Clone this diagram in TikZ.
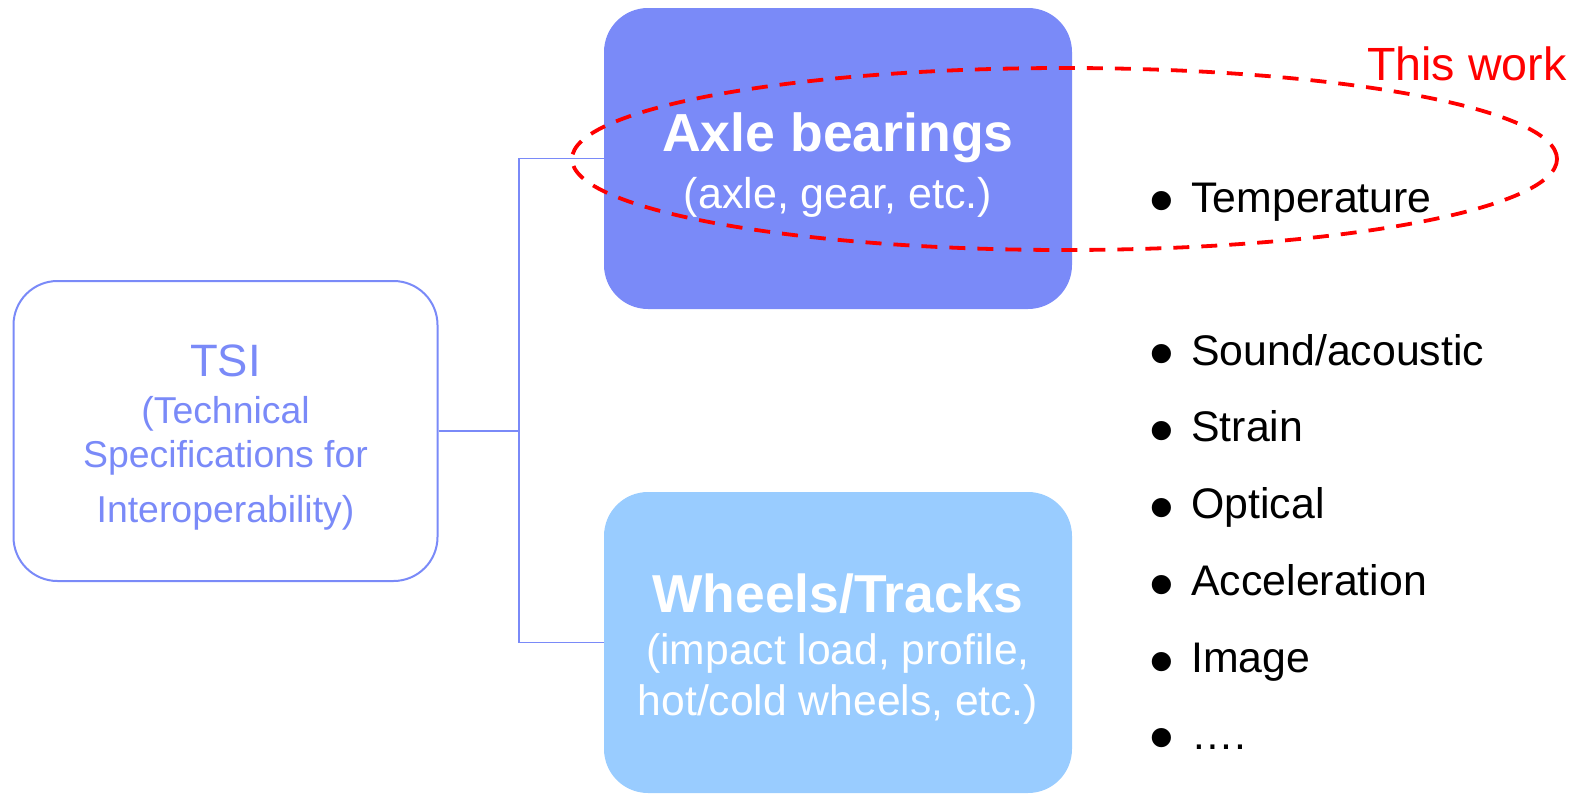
\documentclass[tikz,border=0pt]{standalone}
\usepackage{fontspec}
\usepackage{graphicx}
\setmainfont{Liberation Sans}
\definecolor{tsiblue}{HTML}{7A8AF8}
\definecolor{wheelblue}{HTML}{99CCFF}
\definecolor{workred}{HTML}{FF0000}
% bullet hung to the left of each sensor name
\newcommand{\itemdot}{\llap{\raisebox{-6.4pt}{\scalebox{1.65}{\textbullet}}\hspace{8.8pt}}}
\newcommand{\topstrut}[1]{\rule{0pt}{#1}}

\begin{document}
\begin{tikzpicture}[
  x=0.5pt,
  y=-0.5pt,
  box/.style={rounded corners=22pt, minimum width=234pt, minimum height=150.5pt,
              inner sep=0pt, align=center},
  link/.style={tsiblue, line width=0.9pt},
  halo/.style={workred, line width=1.9pt, dash pattern=on 8pt off 6pt},
  item/.style={anchor=base west, inner sep=0pt, font=\fontsize{21.4}{25}\selectfont}
]
  \useasboundingbox (0,0) rectangle (1575,793);

  % ---- the three boxes -------------------------------------------------
  \node[box, draw=tsiblue, line width=1pt, text=tsiblue,
        minimum width=212pt, minimum height=150pt,
        font=\fontsize{18.7}{22}\selectfont] (tsi) at (225.5,431)
    {\topstrut{21.9pt}{\fontsize{22.7}{22}\selectfont TSI}\\[1.5pt]
     (Technical\\
     Specifications for\\[5.5pt]
     Interoperability)};

  \node[box, fill=tsiblue, text=white,
        font=\fontsize{21.5}{28.5}\selectfont] (axle) at (838,158.5)
    {\topstrut{26.3pt}{\fontsize{26.8}{28.5}\selectfont\bfseries Axle bearings}\\
     (axle, gear, etc.)};

  \node[box, fill=wheelblue, text=white,
        font=\fontsize{21.3}{25.5}\selectfont] (wheels) at (838,642.5)
    {\topstrut{25.5pt}{\fontsize{26.7}{25.5}\selectfont\bfseries Wheels/Tracks}\\[0.5pt]
     (impact load, profile,\\
     hot/cold wheels, etc.)};

  % ---- tree connector --------------------------------------------------
  \coordinate (fork) at (519,431);
  \draw[link] (tsi.east) -- (fork);
  \draw[link] (fork) |- (axle.west);
  \draw[link] (fork) |- (wheels.west);

  % ---- sensing methods -------------------------------------------------
  \node[item] (temp) at (1191,212) {\itemdot Temperature};
  \foreach \name [count=\i from 0] in {Sound/acoustic, Strain, Optical,
                                       Acceleration, Image, ….}
    \node[item] (sensor\i) at (1191,{365+76.8*\i}) {\itemdot\name};

  % ---- scope of the present study --------------------------------------
  \draw[halo] (1064.5,159) ellipse [x radius=246.25pt, y radius=45.5pt];
  \node[anchor=base east, inner sep=0pt, text=workred,
        font=\fontsize{23.3}{25}\selectfont] (work) at (1567,80) {This work};
\end{tikzpicture}
\end{document}
